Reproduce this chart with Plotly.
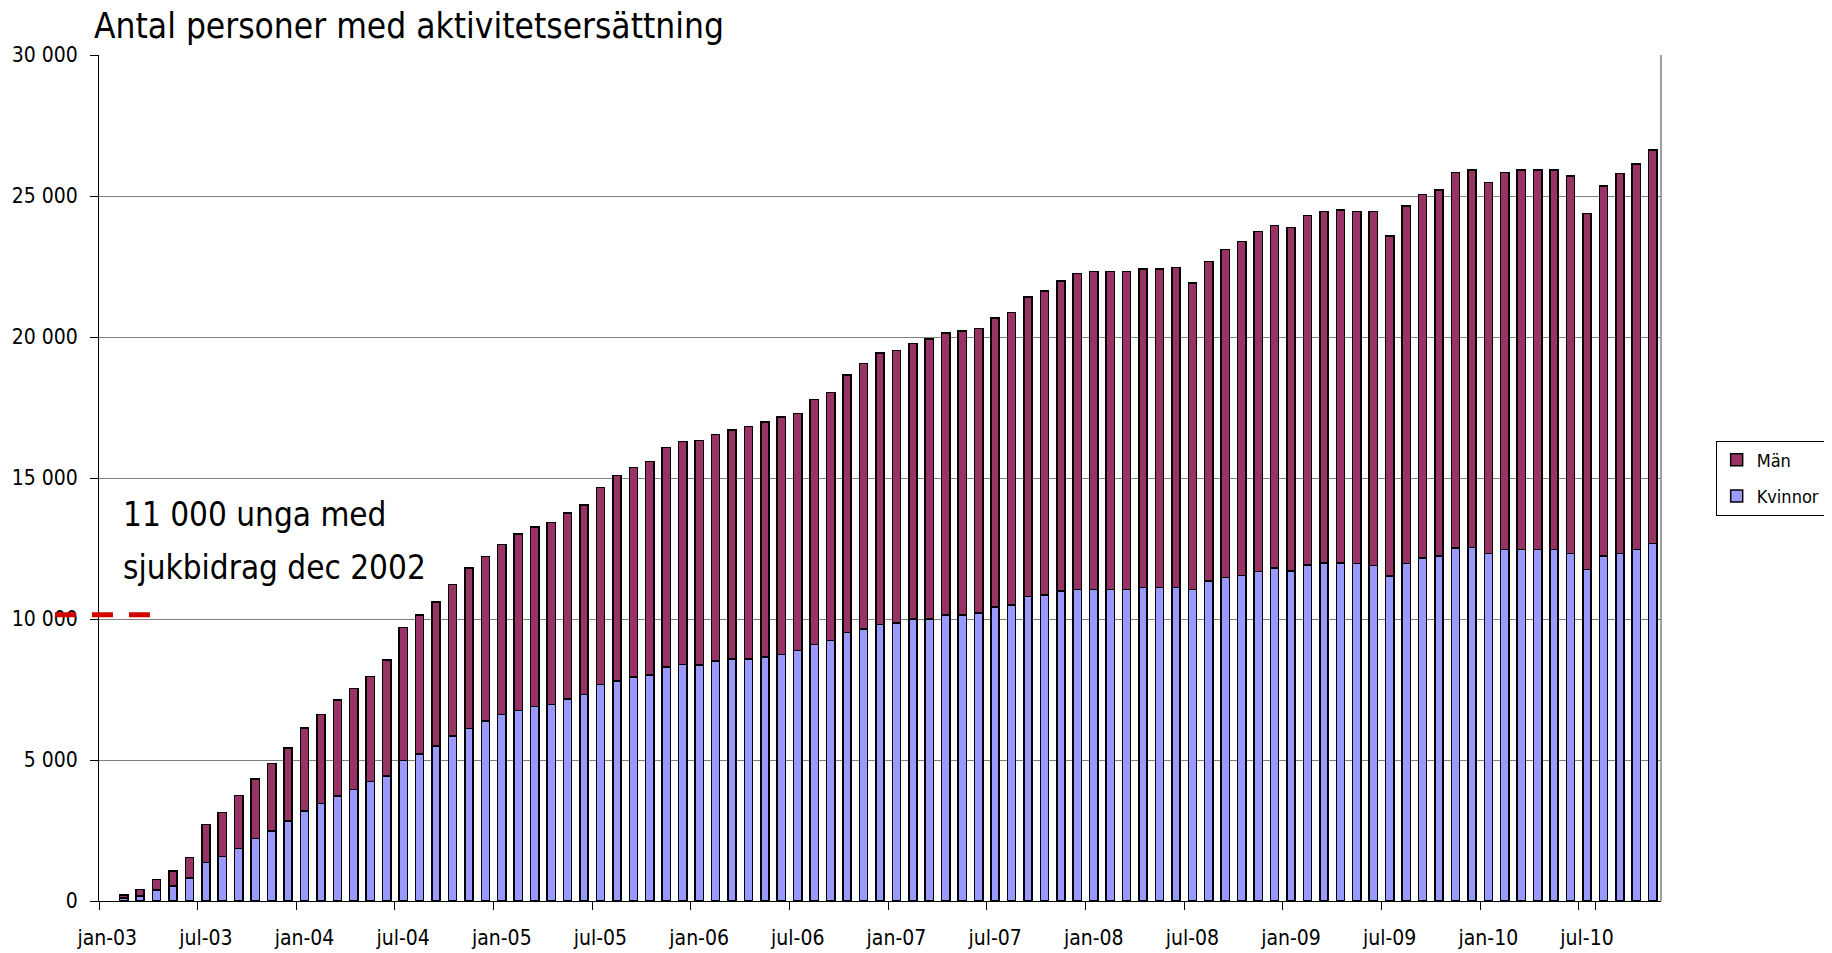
import plotly.graph_objects as go

months_sv = ["jan", "feb", "mar", "apr", "maj", "jun", "jul", "aug", "sep", "okt", "nov", "dec"]
years = ["03", "04", "05", "06", "07", "08", "09", "10"]
categories = [f"{m}-{y}" for y in years for m in months_sv][:95]

kvinnor = [None, 100, 180, 390, 530, 820, 1370, 1580, 1870, 2210, 2480, 2840,
           3190, 3460, 3730, 3950, 4230, 4430, 4990, 5220, 5500, 5850, 6120, 6380,
           6610, 6750, 6900, 6970, 7170, 7320, 7670, 7800, 7940, 8020, 8300, 8390,
           8370, 8510, 8580, 8580, 8660, 8740, 8880, 9090, 9240, 9520, 9640, 9800,
           9850, 10000, 10000, 10140, 10140, 10220, 10420, 10490, 10790, 10850, 10990, 11050,
           11050, 11050, 11050, 11120, 11120, 11120, 11050, 11340, 11470, 11550, 11680, 11810,
           11700, 11910, 11980, 11980, 11960, 11890, 11530, 11960, 12170, 12240, 12520, 12530,
           12320, 12460, 12460, 12460, 12460, 12320, 11750, 12240, 12320, 12460, 12670]

man = [None, 110, 230, 380, 530, 720, 1340, 1560, 1880, 2110, 2400, 2590,
       2940, 3150, 3400, 3590, 3730, 4110, 4710, 4930, 5110, 5380, 5690, 5840,
       6030, 6260, 6360, 6460, 6590, 6730, 7000, 7280, 7430, 7560, 7780, 7900,
       7960, 8030, 8120, 8250, 8330, 8420, 8400, 8690, 8790, 9130, 9420, 9640,
       9670, 9770, 9930, 10000, 10080, 10080, 10260, 10380, 10630, 10780, 10990, 11210,
       11280, 11280, 11280, 11290, 11290, 11350, 10860, 11340, 11630, 11830, 12060, 12140,
       12180, 12390, 12470, 12530, 12490, 12560, 12060, 12680, 12890, 12970, 13320, 13390,
       13160, 13380, 13460, 13460, 13460, 13390, 12630, 13120, 13470, 13670, 13960]

tick_labels = [c for c in categories if c.startswith("jan") or c.startswith("jul")]
y_ticks = [0, 5000, 10000, 15000, 20000, 25000, 30000]
reference_level = 10150
title_text = "Antal personer med aktivitetsersättning"
note_lines = ["11 000 unga med", "sjukbidrag dec 2002"]

FONT = "DejaVu Sans Condensed, DejaVu Sans, sans-serif"

# page body has an 8px margin: figure offset by 8px inside the 1832x953 window
W, H = 1824, 945

fig = go.Figure()
fig.add_trace(go.Bar(
    x=categories, y=kvinnor, name="Kvinnor", width=0.5, legendrank=2,
    marker=dict(color="#9999FF", line=dict(color="black", width=1.5)),
    legendgroup="k",
))
fig.add_trace(go.Bar(
    x=categories, y=man, name="Män", width=0.5, legendrank=1,
    marker=dict(color="#993366", line=dict(color="black", width=1.5)),
    legendgroup="m",
))

fig.update_layout(
    barmode="stack",
    width=W, height=H,
    paper_bgcolor="white", plot_bgcolor="white",
    margin=dict(l=91, r=171, t=47, b=52, autoexpand=False),
    separators=", ",
    font=dict(family=FONT, size=21, color="black"),
    xaxis=dict(
        type="category", categoryorder="array", categoryarray=categories,
        range=[-0.5, len(categories) - 0.5],
        tickmode="array", tickvals=tick_labels, ticktext=tick_labels,
        tickson="boundaries", ticks="outside", ticklen=8, tickcolor="black", tickwidth=1,
        showgrid=False, showline=True, linecolor="black", linewidth=1,
        ticklabelstandoff=18, tickangle=0,
        tickfont=dict(family=FONT, size=21, color="black"),
    ),
    yaxis=dict(
        range=[0, 30000], tickmode="array", tickvals=y_ticks, tickformat=",d",
        ticks="outside", ticklen=8, tickcolor="black", tickwidth=1,
        showgrid=True, gridcolor="#808080", gridwidth=1,
        showline=True, linecolor="black", linewidth=1, zeroline=False,
        ticklabelstandoff=8,
        tickfont=dict(family=FONT, size=21, color="black"),
    ),
    legend=dict(
        x=1.035, xanchor="left", y=0.5, yanchor="middle",
        bordercolor="black", borderwidth=1, bgcolor="white",
        traceorder="grouped", tracegroupgap=10,
        font=dict(family=FONT, size=18, color="black"),
    ),
    showlegend=True,
    shapes=[
        dict(type="line", xref="paper", yref="paper", x0=1, x1=1, y0=0, y1=1,
             line=dict(color="#808080", width=1.5), layer="above"),
        dict(type="line", xref="paper", yref="y", x0=-0.0282, x1=0.0333,
             y0=reference_level, y1=reference_level,
             line=dict(color="#D40000", width=5, dash="21px,16px"), layer="above"),
    ],
    annotations=[
        dict(text=title_text, xref="paper", yref="paper",
             x=-0.0046, y=1.0343, xanchor="left", yanchor="middle", align="left",
             showarrow=False, font=dict(family=FONT, size=35, color="black")),
        dict(text=note_lines[0], xref="paper", yref="paper",
             x=0.014, y=0.4568, xanchor="left", yanchor="middle", align="left",
             showarrow=False, font=dict(family=FONT, size=33, color="black")),
        dict(text=note_lines[1], xref="paper", yref="paper",
             x=0.014, y=0.3942, xanchor="left", yanchor="middle", align="left",
             showarrow=False, font=dict(family=FONT, size=33, color="black")),
    ],
)

fig.write_html("out.html")
